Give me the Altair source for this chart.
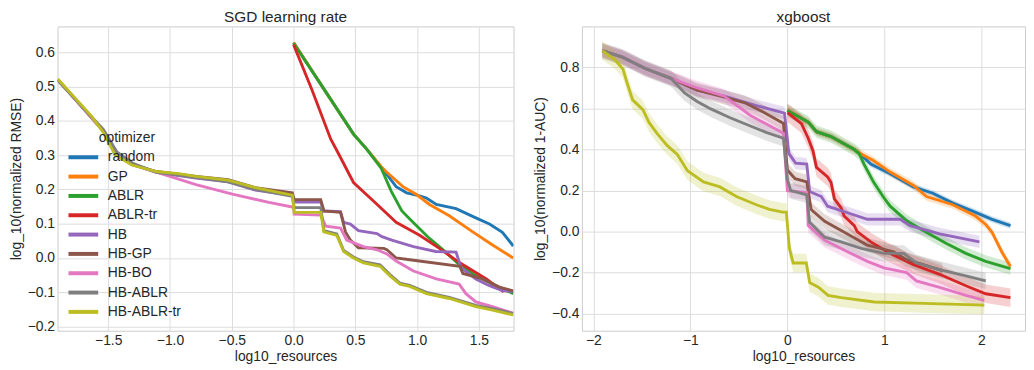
import altair as alt
import pandas as pd

FONT = "Liberation Sans"
OPT = ["random", "GP", "ABLR", "ABLR-tr", "HB", "HB-GP", "HB-BO", "HB-ABLR", "HB-ABLR-tr"]
COLORS = ["#1f77b4", "#ff7f0e", "#2ca02c", "#d62728", "#9467bd",
          "#8c564b", "#e377c2", "#7f7f7f", "#bcbd22"]

# ---------------- SGD learning rate (left panel) ----------------
sgd_random_x = [0.0, 0.25, 0.485, 0.59, 0.71, 0.83, 0.915, 1.02, 1.075, 1.155, 1.315, 1.475, 1.585, 1.69, 1.778]
sgd_random_y = [0.628, 0.49, 0.361, 0.318, 0.265, 0.208, 0.19, 0.181, 0.175, 0.156, 0.144, 0.117, 0.099, 0.075, 0.035]
sgd_gp_x = [0.0, 0.25, 0.485, 0.59, 0.72, 0.755, 0.885, 0.995, 1.1, 1.26, 1.45, 1.61, 1.778]
sgd_gp_y = [0.628, 0.49, 0.361, 0.318, 0.262, 0.25, 0.208, 0.185, 0.156, 0.123, 0.076, 0.038, 0.0]
sgd_ablr_x = [0.0, 0.25, 0.485, 0.59, 0.71, 0.79, 0.875, 0.94, 1.1, 1.21, 1.34, 1.475, 1.635, 1.778]
sgd_ablr_y = [0.626, 0.49, 0.361, 0.318, 0.261, 0.195, 0.138, 0.114, 0.057, 0.024, -0.019, -0.052, -0.08, -0.104]
sgd_ablrtr_x = [0.0, 0.15, 0.30, 0.365, 0.485, 0.67, 0.83, 1.02, 1.18, 1.345, 1.56, 1.70]
sgd_ablrtr_y = [0.622, 0.489, 0.347, 0.303, 0.22, 0.158, 0.104, 0.066, 0.028, -0.014, -0.061, -0.099]
sgd_hb_x = [-1.908, -1.54, -1.43, -1.30, -1.11, -0.79, -0.53, -0.31, -0.01, 0.005, 0.22, 0.245, 0.38, 0.405, 0.46,
            0.525, 0.675, 0.715, 0.795, 0.97, 1.15, 1.315, 1.355, 1.475, 1.58, 1.69, 1.778]
sgd_hb_y = [0.52, 0.37, 0.305, 0.272, 0.25, 0.233, 0.222, 0.198, 0.183, 0.163, 0.163, 0.137, 0.135, 0.104, 0.099,
            0.08, 0.071, 0.062, 0.052, 0.033, 0.019, 0.017, -0.028, -0.061, -0.08, -0.095, -0.098]
sgd_hbgp_x = [-1.908, -1.54, -1.43, -1.30, -1.11, -0.79, -0.53, -0.31, -0.01, 0.005, 0.22, 0.245, 0.38, 0.42, 0.46,
              0.525, 0.73, 0.755, 0.83, 0.94, 1.345, 1.37, 1.53, 1.665, 1.778]
sgd_hbgp_y = [0.52, 0.37, 0.305, 0.272, 0.252, 0.238, 0.228, 0.205, 0.19, 0.17, 0.17, 0.137, 0.133, 0.076, 0.052,
              0.03, 0.028, 0.024, 0.0, -0.005, -0.024, -0.045, -0.061, -0.085, -0.096]
sgd_hbbo_x = [-1.908, -1.54, -1.43, -1.30, -1.11, -0.79, -0.495, -0.2, 0.0, 0.005, 0.22, 0.26, 0.38, 0.43, 0.565,
              0.675, 0.755, 0.83, 0.97, 1.155, 1.34, 1.395, 1.475, 1.61, 1.778]
sgd_hbbo_y = [0.52, 0.37, 0.305, 0.272, 0.25, 0.214, 0.186, 0.162, 0.148, 0.128, 0.125, 0.093, 0.087, 0.052, 0.033,
              0.024, 0.012, -0.009, -0.038, -0.061, -0.076, -0.104, -0.128, -0.142, -0.161]
sgd_hbablr_x = [-1.908, -1.54, -1.43, -1.30, -1.11, -0.79, -0.53, -0.31, -0.01, 0.005, 0.22, 0.245, 0.35, 0.405,
                0.485, 0.565, 0.70, 0.78, 0.86, 0.94, 1.075, 1.26, 1.475, 1.61, 1.778]
sgd_hbablr_y = [0.517, 0.375, 0.309, 0.276, 0.25, 0.235, 0.222, 0.2, 0.18, 0.147, 0.147, 0.08, 0.07, 0.022,
                0.003, -0.011, -0.02, -0.048, -0.073, -0.08, -0.1, -0.115, -0.138, -0.148, -0.162]
sgd_hbablrtr_x = [-1.908, -1.634, -1.54, -1.444, -1.31, -1.11, -0.93, -0.79, -0.53, -0.31, -0.01, 0.005, 0.22, 0.245,
                  0.35, 0.405, 0.485, 0.565, 0.70, 0.78, 0.86, 0.94, 1.075, 1.26, 1.475, 1.61, 1.778]
sgd_hbablrtr_y = [0.522, 0.413, 0.366, 0.30, 0.271, 0.252, 0.246, 0.238, 0.227, 0.205, 0.183, 0.133, 0.133, 0.076,
                  0.066, 0.019, 0.0, -0.014, -0.024, -0.052, -0.076, -0.083, -0.104, -0.118, -0.142, -0.152, -0.166]

# ---------------- xgboost (right panel) ----------------
xgb_random_x = [0.0, 0.215, 0.3, 0.45, 0.69, 0.757, 0.86, 1.06, 1.3, 1.5, 1.705, 1.91, 2.11, 2.3]
xgb_random_y = [0.59, 0.534, 0.487, 0.463, 0.4, 0.376, 0.329, 0.282, 0.218, 0.187, 0.139, 0.1, 0.06, 0.029]
xgb_gp_x = [0.0, 0.215, 0.3, 0.45, 0.69, 0.757, 0.89, 1.06, 1.3, 1.435, 1.705, 1.94, 2.045, 2.11, 2.21, 2.3]
xgb_gp_y = [0.59, 0.534, 0.487, 0.463, 0.4, 0.38, 0.345, 0.29, 0.225, 0.171, 0.131, 0.076, 0.035, -0.003, -0.098, -0.17]
xgb_ablr_x = [0.0, 0.215, 0.3, 0.45, 0.69, 0.74, 0.79, 0.89, 0.995, 1.06, 1.23, 1.4, 1.64, 1.84, 2.045, 2.3]
xgb_ablr_y = [0.59, 0.534, 0.487, 0.463, 0.4, 0.38, 0.329, 0.24, 0.165, 0.124, 0.053, 0.005, -0.058, -0.106, -0.145, -0.18]
xgb_ablrtr_x = [0.0, 0.145, 0.215, 0.265, 0.3, 0.415, 0.45, 0.485, 0.555, 0.585, 0.69, 0.72, 0.86, 1.06, 1.3, 1.57,
                1.84, 2.045, 2.3]
xgb_ablrtr_y = [0.58, 0.526, 0.455, 0.392, 0.313, 0.266, 0.24, 0.16, 0.116, 0.076, 0.029, 0.0, -0.05, -0.106, -0.161,
                -0.208, -0.264, -0.303, -0.322]
xgb_hb_x = [-1.908, -1.70, -1.465, -1.2, -0.93, -0.65, -0.31, -0.03, 0.0, 0.015, 0.085, 0.2, 0.23, 0.35, 0.415, 0.62,
            0.825, 1.165, 1.265, 1.57, 1.98]
xgb_hb_y = [0.882, 0.85, 0.795, 0.747, 0.689, 0.66, 0.613, 0.578, 0.45, 0.381, 0.334, 0.329, 0.195, 0.171, 0.124,
            0.092, 0.06, 0.06, 0.029, -0.011, -0.05]
xgb_hbgp_x = [-1.908, -1.70, -1.465, -1.2, -0.93, -0.65, -0.445, -0.245, -0.04, 0.0, 0.08, 0.2, 0.245, 0.385, 0.555,
              0.825, 1.095, 1.23, 1.4, 1.6]
xgb_hbgp_y = [0.882, 0.85, 0.795, 0.747, 0.69, 0.655, 0.629, 0.582, 0.527, 0.3, 0.258, 0.242, 0.108, 0.05, 0.005,
              -0.066, -0.098, -0.137, -0.161, -0.19]
xgb_hbbo_x = [-1.908, -1.70, -1.465, -1.2, -0.93, -0.65, -0.38, -0.04, 0.0, 0.2, 0.215, 0.385, 0.62, 0.825, 0.995,
              1.23, 1.33, 1.57, 1.84, 2.03]
xgb_hbbo_y = [0.882, 0.85, 0.795, 0.747, 0.70, 0.66, 0.566, 0.479, 0.2, 0.19, 0.029, -0.042, -0.098, -0.145, -0.177,
              -0.2, -0.24, -0.272, -0.311, -0.335]
xgb_hbablr_x = [-1.908, -1.70, -1.465, -1.2, -1.06, -0.93, -0.79, -0.59, -0.445, -0.22, -0.04, 0.0, 0.035, 0.2, 0.23,
                0.385, 0.555, 0.76, 0.995, 1.2, 1.33, 1.57, 1.84, 2.045]
xgb_hbablr_y = [0.882, 0.85, 0.795, 0.747, 0.676, 0.634, 0.598, 0.555, 0.527, 0.484, 0.455, 0.255, 0.2, 0.179, 0.045,
                -0.027, -0.05, -0.082, -0.106, -0.106, -0.153, -0.185, -0.216, -0.24]
xgb_hbablrtr_x = [-1.908, -1.78, -1.695, -1.645, -1.595, -1.49, -1.425, -1.34, -1.24, -1.135, -1.03, -0.865, -0.695,
                  -0.525, -0.32, -0.185, -0.05, -0.01, 0.02, 0.06, 0.195, 0.23, 0.32, 0.42, 0.555, 0.895, 1.405, 2.03]
xgb_hbablrtr_y = [0.882, 0.839, 0.792, 0.713, 0.642, 0.594, 0.531, 0.476, 0.42, 0.376, 0.297, 0.242, 0.218, 0.171,
                  0.131, 0.108, 0.095, 0.095, -0.08, -0.153, -0.153, -0.248, -0.271, -0.311, -0.322, -0.343, -0.35,
                  -0.358]
# half-width of the shaded confidence band per optimizer (xgboost panel)
xgb_band = [0.015, 0.02, 0.03, 0.045, 0.03, 0.035, 0.035, 0.04, 0.045]

sgd_series = [(sgd_random_x, sgd_random_y), (sgd_gp_x, sgd_gp_y), (sgd_ablr_x, sgd_ablr_y),
              (sgd_ablrtr_x, sgd_ablrtr_y), (sgd_hb_x, sgd_hb_y), (sgd_hbgp_x, sgd_hbgp_y),
              (sgd_hbbo_x, sgd_hbbo_y), (sgd_hbablr_x, sgd_hbablr_y), (sgd_hbablrtr_x, sgd_hbablrtr_y)]
xgb_series = [(xgb_random_x, xgb_random_y), (xgb_gp_x, xgb_gp_y), (xgb_ablr_x, xgb_ablr_y),
              (xgb_ablrtr_x, xgb_ablrtr_y), (xgb_hb_x, xgb_hb_y), (xgb_hbgp_x, xgb_hbgp_y),
              (xgb_hbbo_x, xgb_hbbo_y), (xgb_hbablr_x, xgb_hbablr_y), (xgb_hbablrtr_x, xgb_hbablrtr_y)]


def build(series, bands=None):
    frames = []
    for k, (name, (xs, ys)) in enumerate(zip(OPT, series)):
        hw = bands[k] if bands else 0.0
        frames.append(pd.DataFrame({
            "optimizer": name, "x": xs, "y": ys, "i": list(range(len(xs))),
            "lo": [v - hw for v in ys], "hi": [v + hw for v in ys]}))
    return pd.concat(frames, ignore_index=True)


sgd_df = build(sgd_series)
xgb_df = build(xgb_series, xgb_band)

cscale = alt.Scale(domain=OPT, range=COLORS)


def legend(lx, ly, framed):
    kw = dict(title="optimizer", orient="none", legendX=lx, legendY=ly,
              symbolType="M-1.875,0H1.875", symbolSize=256, symbolStrokeWidth=4,
              labelFontSize=14, titleFontSize=14, titleFontWeight="normal",
              labelOffset=14.7, rowPadding=1.5, padding=5, titleAnchor="middle", titlePadding=2,
              labelColor="#262626", titleColor="#262626", labelFont=FONT, titleFont=FONT)
    if framed:
        kw.update(fillColor="rgba(255,255,255,0.8)", strokeColor="#cccccc", cornerRadius=3)
    return alt.Legend(**kw)


def panel(df, title, ytitle, xdom, ydom, xvals, yvals, xfmt, leg, width, height, band=False):
    xenc = alt.X("x:Q", title="log10_resources",
                 scale=alt.Scale(domain=xdom, nice=False, zero=False),
                 axis=alt.Axis(values=xvals, format=xfmt, labelPadding=3, titlePadding=2))
    yenc = alt.Y("y:Q", title=ytitle,
                 scale=alt.Scale(domain=ydom, nice=False, zero=False),
                 axis=alt.Axis(values=yvals, format=".1f", labelPadding=3, titlePadding=4))
    base = alt.Chart(df)
    line = base.mark_line(strokeWidth=2.9, clip=True).encode(
        x=xenc, y=yenc,
        color=alt.Color("optimizer:N", scale=cscale, sort=OPT, legend=leg),
        order=alt.Order("i:Q"))
    layers = []
    if band:
        area = base.mark_area(opacity=0.22, clip=True).encode(
            x=alt.X("x:Q"), y=alt.Y("lo:Q"), y2=alt.Y2("hi:Q"),
            color=alt.Color("optimizer:N", scale=cscale, sort=OPT, legend=None))
        layers.append(area)
    layers.append(line)
    return alt.layer(*layers).properties(width=width, height=height, title=title)


H = 307
left = panel(sgd_df, "SGD learning rate", "log_10(normalized RMSE)", [-1.91, 1.78], [-0.212, 0.675],
             [-1.5, -1.0, -0.5, 0.0, 0.5, 1.0, 1.5], [-0.2, -0.1, 0.0, 0.1, 0.2, 0.3, 0.4, 0.5, 0.6],
             ".1f", legend(11, 101, False), 460, H)
right = panel(xgb_df, "xgboost", "log_10(normalized 1-AUC)", [-2.118, 2.45], [-0.483, 1.0],
              [-2, -1, 0, 1, 2], [-0.4, -0.2, 0.0, 0.2, 0.4, 0.6, 0.8],
              "d", legend(10, 100, True), 447, H, band=True)

chart = alt.hconcat(left, right, spacing=18).resolve_scale(color="independent").resolve_legend(
    color="independent").properties(padding=0).configure_view(
    stroke="#cccccc", strokeWidth=1).configure_axis(
    grid=True, gridColor="#dddddd", gridWidth=1, ticks=False, domain=False,
    labelFont=FONT, titleFont=FONT, labelFontSize=14, titleFontSize=14,
    labelColor="#262626", titleColor="#262626", titleFontWeight="normal").configure_title(
    font=FONT, fontSize=15.5, fontWeight="normal", color="#262626", offset=1)

chart.save("out.html", embed_options={"renderer": "svg", "actions": False})
